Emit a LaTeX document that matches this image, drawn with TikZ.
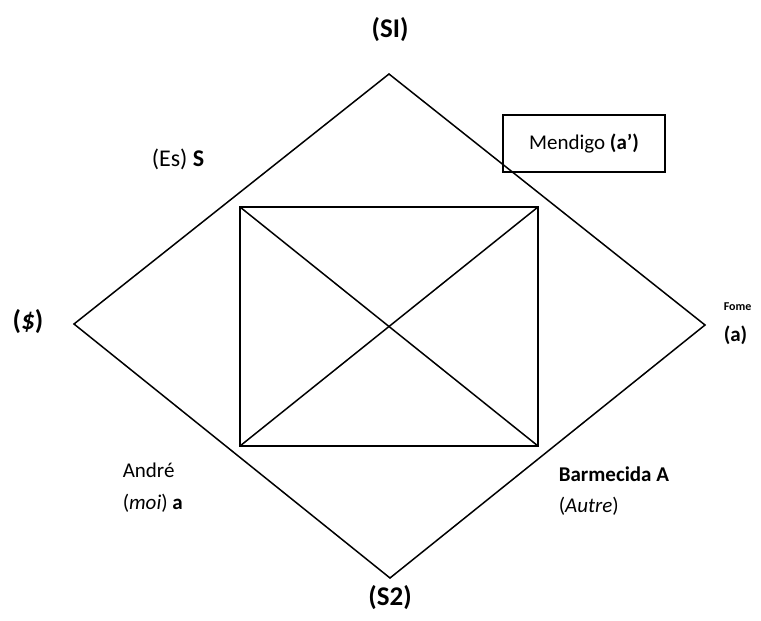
\documentclass[tikz,border=0pt]{standalone}
\usepackage{fontspec}
\setmainfont{Carlito}
\begin{document}
\begin{tikzpicture}[x=1pt,y=-1pt,line width=1.5pt,
  lbl/.style={inner sep=0pt,font=\fontsize{21}{25}\selectfont},
  big/.style={inner sep=0pt,font=\fontsize{27}{31}\selectfont\bfseries},
  lft/.style={lbl,anchor=west}]
\useasboundingbox (0,0) rectangle (761,621);
% vertices
\coordinate (T) at (389,74);
\coordinate (L) at (74,324);
\coordinate (R) at (705,325);
\coordinate (B) at (390,578);
\coordinate (TL) at (240,207);
\coordinate (TR) at (538,207);
\coordinate (BR) at (538,446);
\coordinate (BL) at (240,446);
\draw[line join=miter] (T) -- (R) -- (B) -- (L) -- cycle;
\draw (TL) -- (TR) -- (BR) -- (BL) -- cycle;
\draw (TL) -- (BR);
\draw (TR) -- (BL);
% labels
\node[big] (si) at (390,30) {(SI)};
\node[big] (s2) at (390,598) {(S2)};
\node[big] (sd) at (28,322) {(\textit{\$})};
\node[lbl,font=\fontsize{24}{28}\selectfont] (es) at (178,159) {(Es) \textbf{S}};
\node[draw,line width=1.2pt,minimum width=162pt,minimum height=57pt,inner sep=0pt,font=\fontsize{21}{25}\selectfont] (mend) at (584,143.5) {Mendigo \textbf{(a’)}};
\node[inner sep=0pt,anchor=west,font=\fontsize{12}{14}\selectfont\bfseries] (fome) at (723,307) {Fome};
\node[lft,font=\fontsize{21}{25}\selectfont\bfseries] (a) at (723,335) {(a)};
\node[lft] (andre) at (122,470) {André};
\node[lft] (moi) at (122,503) {(\textit{moi}) \textbf{a}};
\node[lft] (barm) at (558,474) {\textbf{Barmecida A}};
\node[lft] (autre) at (558,506) {(\textit{Autre})};
\end{tikzpicture}
\end{document}
